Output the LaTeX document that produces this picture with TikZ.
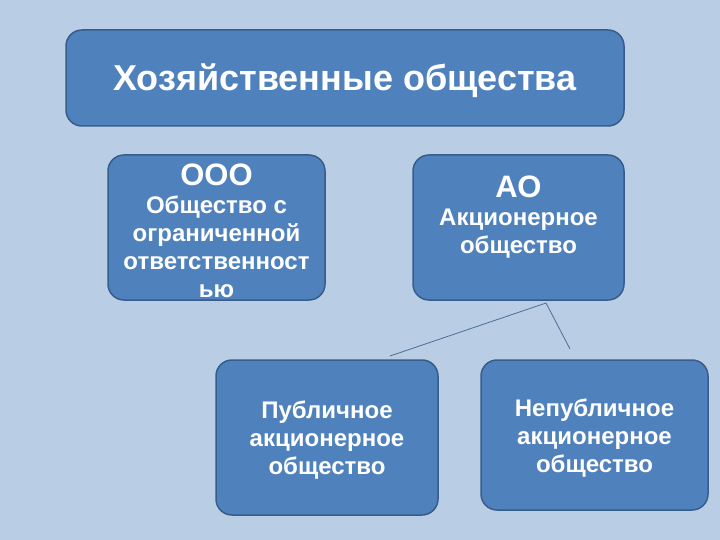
\documentclass[tikz,border=0pt]{standalone}
\usepackage{fontspec}
\setmainfont{Liberation Sans}
\definecolor{bg}{HTML}{B9CDE5}
\definecolor{boxfill}{HTML}{4F81BD}
\definecolor{boxline}{HTML}{385D8A}
\begin{document}
\begin{tikzpicture}[x=1pt,y=-1pt,
  rbox/.style={draw=boxline,line width=1.5pt,fill=boxfill,rounded corners=16pt},
  txt/.style={text=white,font=\bfseries\fontsize{24}{28}\selectfont,align=center,inner sep=0pt},
  link/.style={draw=boxline!90,line width=0.8pt}]
\fill[bg] (0,0) rectangle (720,540);
\useasboundingbox (0,0) rectangle (720,540);
\draw[rbox] (66,30) rectangle (624,126);
\node[txt,font=\bfseries\fontsize{36}{40}\selectfont] (title) at (345,81) {Хозяйственные общества};
\draw[rbox] (108,155) rectangle (325,300);
\node[txt] (ooo) at (216.5,230.5) {{\fontsize{31}{30}\selectfont ООО}\\Общество с\\ограниченной\\ответственност\\ью};
\draw[rbox] (413,155) rectangle (624,300);
\node[txt] (ao) at (518.5,217) {{\fontsize{31}{30}\selectfont АО}\\Акционерное\\общество};
\draw[rbox] (216,360) rectangle (438,515);
\node[txt] (pub) at (327,440) {Публичное\\акционерное\\общество};
\draw[rbox] (481,360) rectangle (708,510);
\node[txt] (npub) at (594.5,438.5) {Непубличное\\акционерное\\общество};
\coordinate (hub) at (546,303);
\coordinate (l1) at (390,356);
\coordinate (l2) at (570,349);
\draw[link] (l1) -- (hub) -- (l2);
\end{tikzpicture}
\end{document}
